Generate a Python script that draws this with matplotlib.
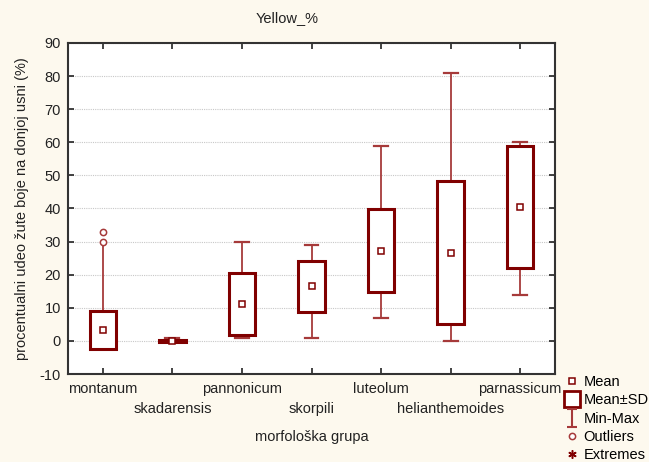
import numpy as np
import matplotlib.pyplot as plt
from matplotlib.lines import Line2D
from matplotlib.path import Path

plt.rcParams['font.family'] = ['Liberation Sans', 'DejaVu Sans']
plt.rcParams['axes.unicode_minus'] = False

# Data
groups = ['montanum', 'skadarensis', 'pannonicum', 'skorpili',
          'luteolum', 'helianthemoides', 'parnassicum']
means = [3.3, 0.1, 11.2, 16.5, 27.2, 26.7, 40.4]
sds = [5.8, 0.3, 9.3, 7.7, 12.5, 21.5, 18.5]
mins = [0.0, 0.0, 1.0, 1.0, 7.0, 0.0, 14.0]
maxs = [30.0, 0.8, 30.0, 29.0, 59.0, 81.0, 60.0]
outliers = [[30.0, 33.0], [], [], [], [], [], []]

box_col = '#800000'
whisk_col = '#A63A3A'
bg = '#FDF9EE'
fs = 10.5

fig = plt.figure(figsize=(6.49, 4.62), dpi=100, facecolor=bg)
ax = fig.add_axes([68/649, 1 - 374/462, (555-68)/649, (374-43)/462])
ax.set_facecolor('white')

x = np.arange(1, len(groups) + 1)
lows = np.array(means) - np.array(sds)
highs = np.array(means) + np.array(sds)

# whiskers and caps
for xi, lo, hi, mn, mx, outs in zip(x, lows, highs, mins, maxs, outliers):
    if mx > hi:
        ax.plot([xi, xi], [hi, mx], color=whisk_col, lw=1.3, zorder=2)
        if mx not in outs:
            ax.plot([xi - 0.1, xi + 0.1], [mx, mx], color=whisk_col, lw=1.6, zorder=2)
    if mn < lo:
        ax.plot([xi, xi], [mn, lo], color=whisk_col, lw=1.3, zorder=2)
        ax.plot([xi - 0.1, xi + 0.1], [mn, mn], color=whisk_col, lw=1.6, zorder=2)

# mean +- SD boxes
ax.bar(x, highs - lows, bottom=lows, width=0.38, color='white',
       edgecolor=box_col, linewidth=2.2, zorder=3)

# means
ax.plot(x, means, 's', ms=5, mfc='white', mec=box_col, mew=1.1, ls='none', zorder=4)

# outliers
for xi, outs in zip(x, outliers):
    if outs:
        ax.plot([xi] * len(outs), outs, 'o', ms=4.5, mfc='white', mec=whisk_col,
                mew=1.1, ls='none', zorder=5)

ax.set_xlim(0.5, 7.5)
ax.set_ylim(-10, 90)
ax.set_yticks(np.arange(-10, 91, 10))
ax.set_xticks(x)
ax.set_xticklabels(groups)
ax.yaxis.grid(True, color='#C8C8C8', linestyle=(0, (1, 1)), lw=0.8)
ax.set_axisbelow(True)

ax.tick_params(direction='in', length=4, width=1.2, labelsize=fs, color='#222222',
               top=True, right=True, labelcolor='#222222')
ax.tick_params(axis='y', pad=5)
# staggered category labels
for i, t in enumerate(ax.xaxis.get_major_ticks()):
    t.set_pad(6 if i % 2 == 0 else 20.5)
for s in ax.spines.values():
    s.set_linewidth(1.5)
    s.set_color('#333333')

ax.set_xlabel('morfološka grupa', fontsize=fs, color='#222222', labelpad=10)
ax.set_ylabel('procentualni udeo žute boje na donjoj usni (%)', fontsize=fs,
              color='#222222', labelpad=8)
fig.text(287/649, 1 - 18/462, 'Yellow_%', ha='center', va='center', fontsize=fs,
         color='#222222')

# legend
minmax = Path([(-0.5, 1), (0.5, 1), (0, 1), (0, -1), (-0.5, -1), (0.5, -1)],
              [Path.MOVETO, Path.LINETO, Path.MOVETO, Path.LINETO, Path.MOVETO, Path.LINETO])
handles = [
    Line2D([], [], marker='s', ms=5, mfc='white', mec=box_col, mew=1.1, ls='none'),
    Line2D([], [], marker='s', ms=12, mfc='white', mec=box_col, mew=2, ls='none'),
    Line2D([], [], marker=minmax, ms=13, mfc='none', mec=whisk_col, mew=1.5, ls='none'),
    Line2D([], [], marker='o', ms=4.5, mfc='white', mec=whisk_col, mew=1.1, ls='none'),
    Line2D([], [], marker=(6, 2, 0), ms=6, mec=box_col, mew=1.1, ls='none'),
]
labels = ['Mean', 'Mean±SD', 'Min-Max', 'Outliers', 'Extremes']
fig.legend(handles, labels, loc='lower left', bbox_to_anchor=(556/649, -0.02),
           frameon=False, fontsize=fs, handlelength=1.0, handletextpad=0.3,
           labelspacing=0.3, borderaxespad=0.2)

fig.savefig('out.png', dpi=100, facecolor=bg)
